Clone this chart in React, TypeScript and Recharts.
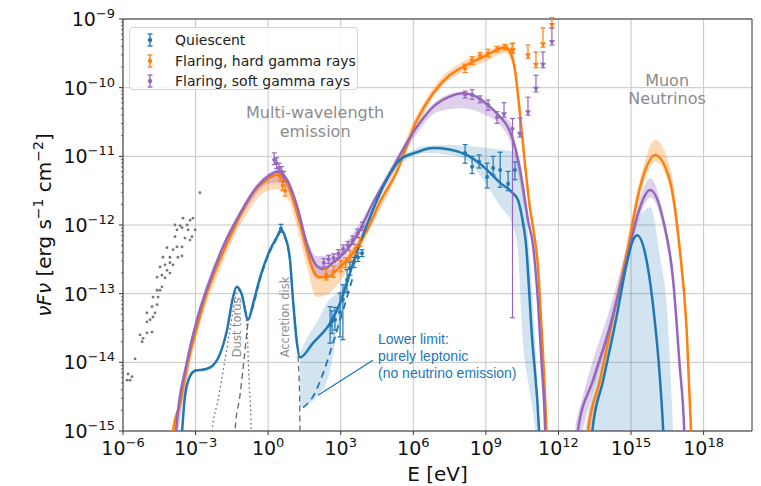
import React from 'react';
import {
  ComposedChart,
  Line,
  Area,
  Scatter,
  ErrorBar,
  XAxis,
  YAxis,
  CartesianGrid,
  ReferenceDot,
  ReferenceLine,
  ReferenceArea,
} from 'recharts';

// all values are log10: x = log10(E / eV), y = log10(vFv / erg s^-1 cm^-2)

const BLUE = '#1f77b4';
const ORANGE = '#ff7f0e';
const PURPLE = '#9467bd';
const GRAY = '#8c8c8c';
const FONT = '"DejaVu Sans", sans-serif';

const xTicks = [-6, -3, 0, 3, 6, 9, 12, 15, 18];
const yMajor = [-15, -14, -13, -12, -11, -10, -9];

// model curves, [x, y]
const quiescentSed = [
  [-3.63, -15.4], [-3.44, -14.5], [-3.23, -14.2], [-3.0, -14.12], [-2.6, -14.1], [-2.3, -14.05],
  [-2.07, -13.94], [-1.7, -13.53], [-1.45, -13.05], [-1.3, -12.9], [-1.1, -13.0], [-0.83, -13.38],
  [-0.62, -13.14], [-0.33, -12.76], [0.08, -12.36], [0.37, -12.17], [0.53, -12.07], [0.7, -12.17],
  [0.9, -12.5], [1.03, -13.1], [1.19, -13.72], [1.32, -13.93], [1.85, -13.72], [2.56, -13.43],
  [2.97, -13.14], [3.38, -12.7], [3.8, -12.26], [4.33, -11.78], [4.9, -11.34], [5.45, -11.05],
  [6.15, -10.94], [6.8, -10.88], [7.5, -10.9], [8.2, -10.98], [8.9, -11.15], [9.6, -11.39],
  [10.1, -11.53], [10.33, -11.64], [10.5, -11.9], [10.65, -12.25], [10.9, -13.6], [11.2, -15.0],
  [11.25, -15.4],
];
const hardSed = [
  [-3.97, -15.4], [-3.93, -15.0], [-3.64, -14.59], [-3.36, -14.07], [-2.94, -13.49], [-2.53, -12.99],
  [-2.0, -12.51], [-1.3, -11.97], [-0.62, -11.53], [-0.05, -11.34], [0.37, -11.27], [0.78, -11.39],
  [1.2, -11.83], [1.6, -12.36], [1.85, -12.65], [2.1, -12.76], [2.43, -12.76], [2.97, -12.61],
  [3.5, -12.41], [4.1, -12.07], [4.6, -11.68], [5.3, -11.24], [6.15, -10.47], [6.82, -10.08],
  [7.5, -9.82], [8.2, -9.67], [8.9, -9.55], [9.46, -9.45], [9.8, -9.41], [10.0, -9.48],
  [10.2, -9.74], [10.4, -10.35], [10.6, -11.05], [10.8, -11.7], [11.0, -12.15], [11.15, -12.6],
  [11.3, -13.5], [11.42, -14.3], [11.5, -15.0], [11.53, -15.4],
];
const softSed = [
  [-3.86, -15.4], [-3.81, -15.0], [-3.36, -14.0], [-2.94, -13.38], [-2.4, -12.8], [-1.87, -12.32],
  [-1.16, -11.83], [-0.46, -11.44], [0.08, -11.27], [0.37, -11.22], [0.78, -11.34], [1.2, -11.73],
  [1.6, -12.27], [2.02, -12.6], [2.3, -12.64], [2.68, -12.55], [3.26, -12.36], [3.8, -12.07],
  [4.33, -11.68], [5.04, -11.24], [6.15, -10.57], [6.82, -10.28], [7.5, -10.13], [8.05, -10.08],
  [8.6, -10.13], [9.17, -10.28], [9.6, -10.43], [9.9, -10.57], [10.12, -10.76], [10.33, -11.05],
  [10.53, -11.44], [10.74, -11.93], [10.95, -12.3], [11.15, -13.1], [11.3, -14.0], [11.45, -15.0],
  [11.48, -15.4],
];
const quiescentNu = [
  [13.33, -15.4], [13.4, -15.0], [13.85, -14.26], [14.4, -13.34], [14.83, -12.55], [15.05, -12.25],
  [15.25, -12.15], [15.58, -12.41], [15.9, -13.14], [16.2, -14.26], [16.33, -15.0], [16.38, -15.4],
];
const hardNu = [
  [13.15, -15.4], [13.22, -15.0], [13.72, -14.26], [14.26, -13.34], [14.83, -12.41], [15.37, -11.45],
  [16.0, -10.98], [16.6, -11.35], [17.0, -12.32], [17.3, -13.53], [17.48, -15.0], [17.52, -15.4],
];
const softNu = [
  [12.72, -15.4], [12.8, -15.0], [13.43, -14.26], [14.13, -13.48], [14.83, -12.5], [15.29, -11.83],
  [15.79, -11.49], [16.33, -11.93], [16.74, -12.8], [17.0, -14.0], [17.2, -15.0], [17.24, -15.4],
];
const dustTorus = [
  [-2.36, -15.4], [-2.32, -15.0], [-2.07, -14.55], [-1.82, -14.04], [-1.58, -13.53], [-1.37, -13.1],
  [-1.25, -12.95], [-1.04, -13.06], [-0.87, -13.53], [-0.79, -14.26], [-0.7, -15.0], [-0.68, -15.4],
];
const accretionDisk = [
  [-1.42, -15.4], [-1.37, -15.0], [-1.16, -14.47], [-1.0, -13.97], [-0.83, -13.43], [-0.62, -13.2],
  [-0.33, -12.8], [0.08, -12.39], [0.37, -12.2], [0.53, -12.1], [0.7, -12.2], [0.9, -12.53],
  [1.03, -13.1], [1.15, -13.55], [1.25, -14.0], [1.3, -14.5], [1.32, -15.4],
];
const leptonicLimit = [
  [1.44, -14.66], [1.85, -14.5], [2.27, -14.16], [2.68, -13.72], [3.1, -13.24], [3.5, -12.76],
];

// uncertainty bands, [x, low, high]
const quiescentDipBand = [
  [1.32, -14.65, -13.85], [1.6, -14.62, -13.65], [2.0, -14.5, -13.42], [2.5, -14.2, -13.1],
  [3.0, -13.3, -12.95], [3.4, -12.8, -12.68],
];
const quiescentIcBand = [
  [5.5, -11.1, -11.0], [6.5, -10.95, -10.85], [7.5, -10.98, -10.83], [8.2, -11.05, -10.85],
  [8.9, -11.35, -10.87], [9.6, -11.73, -10.9], [10.1, -12.0, -10.93], [10.3, -12.3, -10.97],
  [10.53, -13.7, -11.3], [10.8, -14.4, -12.4], [11.03, -14.95, -13.6], [11.2, -15.6, -15.0],
];
const hardBand = [
  [-3.9, -15.3, -14.9], [-3.6, -14.7, -14.45], [-3.0, -13.68, -13.5], [-2.0, -12.65, -12.5],
  [-1.0, -11.9, -11.75], [0.0, -11.5, -11.3], [0.4, -11.48, -11.25], [0.8, -11.6, -11.36],
  [1.2, -12.05, -11.78], [1.6, -12.6, -12.25], [2.0, -13.05, -12.6], [2.5, -13.0, -12.65],
  [3.0, -12.8, -12.52], [3.5, -12.55, -12.32], [4.0, -12.2, -12.0], [5.0, -11.52, -11.35],
  [6.0, -10.7, -10.5], [7.0, -10.05, -9.92], [8.0, -9.78, -9.63], [9.0, -9.62, -9.48],
  [9.8, -9.5, -9.36], [10.1, -9.65, -9.45], [10.3, -10.1, -9.9],
];
const softBand = [
  [-3.8, -15.2, -14.9], [-3.0, -13.55, -13.4], [-2.0, -12.5, -12.38], [-1.0, -11.82, -11.7],
  [0.0, -11.4, -11.25], [0.4, -11.38, -11.2], [0.8, -11.5, -11.32], [1.2, -11.9, -11.7],
  [1.6, -12.45, -12.2], [2.0, -12.78, -12.45], [2.5, -12.75, -12.45], [3.0, -12.55, -12.35],
  [3.5, -12.3, -12.12], [4.0, -12.0, -11.85], [5.0, -11.35, -11.2], [6.0, -10.75, -10.62],
  [7.0, -10.35, -10.18], [8.0, -10.3, -10.06], [9.0, -10.4, -10.2], [9.6, -10.55, -10.4],
  [10.0, -10.78, -10.5], [10.3, -11.2, -10.98], [10.6, -11.8, -11.5],
];
const quiescentNuBand = [
  [13.0, -16, -15.2], [13.4, -16, -14.4], [14.0, -16, -13.55], [14.5, -16, -12.85], [15.0, -16, -12.15],
  [15.4, -16, -11.85], [15.8, -16, -11.74], [16.2, -16, -12.47], [16.5, -16, -13.3], [16.75, -16, -15.1],
];
const hardNuBand = [
  [13.2, -15.2, -14.9], [13.7, -14.35, -14.15], [14.3, -13.4, -13.2], [14.8, -12.5, -12.3],
  [15.4, -11.55, -11.3], [16.0, -11.08, -10.76], [16.6, -11.45, -11.15], [17.0, -12.4, -12.1],
  [17.3, -13.6, -13.35], [17.5, -15.2, -14.8],
];
const softNuBand = [
  [12.7, -15.4, -14.9], [13.4, -14.45, -14.0], [14.1, -13.6, -13.25], [14.8, -12.6, -12.35],
  [15.3, -11.95, -11.7], [15.8, -11.6, -11.32], [16.3, -12.0, -11.8], [16.7, -12.85, -12.65],
  [17.0, -14.05, -13.85], [17.2, -15.1, -14.9],
];

// measurements, [x, y, low, high]
const quiescentData = [
  [0.53, -12.05, -12.1, -11.99],
  [2.56, -13.46, -13.72, -13.19], [2.64, -13.4, -13.58, -13.25], [2.76, -13.38, -13.53, -13.2],
  [2.97, -13.27, -13.63, -12.99], [3.09, -13.09, -13.67, -12.87], [3.26, -12.8, -12.98, -12.65],
  [3.38, -12.63, -12.73, -12.54], [3.55, -12.54, -12.62, -12.47], [3.71, -12.47, -12.53, -12.41],
  [3.88, -12.41, -12.46, -12.36],
  [8.14, -10.95, -11.1, -10.83], [8.43, -11.15, -11.25, -11.0], [8.72, -11.08, -11.17, -10.98],
  [9.05, -11.3, -11.46, -11.1], [9.3, -11.17, -11.27, -11.0], [9.59, -11.2, -11.45, -10.94],
  [9.92, -11.4, -11.5, -11.22], [10.2, -11.2, -11.34, -11.08],
];
const hardData = [
  [0.5, -11.3, -11.36, -11.24], [0.6, -11.42, -11.5, -11.35], [0.7, -11.5, -11.58, -11.42],
  [2.4, -12.72, -12.8, -12.64], [2.7, -12.68, -12.76, -12.6], [3.0, -12.6, -12.68, -12.52],
  [3.2, -12.55, -12.62, -12.48], [3.4, -12.45, -12.52, -12.38], [3.6, -12.35, -12.42, -12.28],
  [3.8, -12.25, -12.31, -12.19],
  [8.14, -9.72, -9.78, -9.66], [8.43, -9.6, -9.66, -9.55], [8.76, -9.53, -9.57, -9.49],
  [9.09, -9.5, -9.55, -9.44], [9.46, -9.44, -9.48, -9.4], [9.79, -9.41, -9.45, -9.37],
  [10.08, -9.45, -9.5, -9.36],
];
const softData = [
  [0.25, -11.05, -11.12, -10.95], [0.35, -11.1, -11.18, -11.02], [0.45, -11.17, -11.24, -11.1],
  [0.55, -11.22, -11.3, -11.15], [0.65, -11.3, -11.37, -11.22],
  [2.3, -12.55, -12.61, -12.49], [2.5, -12.5, -12.56, -12.44], [2.7, -12.48, -12.54, -12.42],
  [2.9, -12.42, -12.48, -12.36], [3.1, -12.35, -12.41, -12.29], [3.3, -12.3, -12.36, -12.24],
  [3.5, -12.22, -12.28, -12.16], [3.7, -12.12, -12.18, -12.06], [3.9, -12.02, -12.08, -11.96],
  [8.14, -10.1, -10.15, -10.05], [8.43, -10.1, -10.17, -10.03], [8.76, -10.17, -10.22, -10.12],
  [9.09, -10.25, -10.33, -10.18], [9.46, -10.43, -10.52, -10.35], [10.1, -10.6, -13.35, -10.45],
];

// upper limits, [x, top, arrow tip]
const hardLimits = [
  [10.12, -9.35, -9.5], [10.74, -9.38, -9.57], [11.07, -9.48, -9.71], [11.36, -9.13, -9.41],
  [11.73, -8.98, -9.13],
];
const softLimits = [
  [9.75, -10.22, -10.43], [10.41, -10.44, -10.72], [10.74, -10.14, -10.4], [11.07, -9.82, -10.06],
  [11.36, -9.48, -9.71], [11.73, -9.13, -9.38],
];

// archival host / radio points, [x, y]
const archival = [
  [-5.83, -14.26], [-5.63, -14.21], [-5.79, -14.17], [-5.71, -14.26], [-5.5, -13.95], [-5.21, -13.7],
  [-5.17, -13.65], [-5.3, -13.6], [-5.01, -13.57], [-4.8, -13.56], [-5.01, -13.41], [-4.88, -13.38],
  [-5.01, -13.28], [-4.76, -13.34], [-4.68, -13.28], [-4.8, -13.19], [-4.59, -13.16], [-4.76, -13.05],
  [-4.55, -13.05], [-4.47, -12.95], [-4.59, -12.95], [-4.39, -12.9], [-4.59, -12.76], [-4.39, -12.73],
  [-4.26, -12.77], [-4.18, -12.66], [-4.06, -12.7], [-4.47, -12.61], [-4.26, -12.58], [-4.06, -12.55],
  [-3.93, -12.58], [-4.35, -12.47], [-4.06, -12.47], [-3.73, -12.47], [-3.56, -12.45], [-4.18, -12.33],
  [-3.93, -12.36], [-3.77, -12.32], [-3.56, -12.32], [-3.85, -12.17], [-3.44, -12.19], [-3.23, -12.22],
  [-3.15, -12.17], [-3.77, -12.07], [-3.56, -12.04], [-3.31, -12.07], [-3.02, -12.07], [-3.85, -12.0],
  [-3.64, -12.01], [-3.35, -12.0], [-3.23, -11.93], [-3.11, -11.9], [-3.52, -11.9], [-2.82, -11.53],
];

const yTicks = yMajor.flatMap((n) =>
  n === -9 ? [n] : [n, ...[2, 3, 4, 5, 6, 7, 8, 9].map((k) => n + Math.log10(k))]
);

const toXY = (pts: number[][]) => pts.map(([x, y]) => ({ x, y }));
const toBand = (pts: number[][]) => pts.map(([x, lo, hi]) => ({ x, band: [lo, hi] }));
const toErr = (pts: number[][]) => pts.map(([x, y, lo, hi]) => ({ x, y, err: [y - lo, hi - y] }));
const toLimit = (pts: number[][]) => pts.map(([x, top, tip]) => ({ x, y: tip, err: [0, top - tip] }));

const sup = (v: number) => (v < 0 ? '\u2212' + Math.abs(v) : String(v));

const XTick = (props: any) => {
  const { x, y, payload } = props;
  return (
    <g>
      <line x1={x} x2={x} y1={y} y2={y + 4} stroke="#333" />
      <text x={x} y={y + 24} textAnchor="middle" fontSize={19} fontFamily={FONT} fill="#111">
        10<tspan dy={-8} fontSize={13}>{sup(payload.value)}</tspan>
      </text>
    </g>
  );
};

const YTick = (props: any) => {
  const { x, y, payload } = props;
  const v = payload.value;
  const major = Math.abs(v - Math.round(v)) < 1e-6;
  return (
    <g>
      <line x1={x} x2={x - (major ? 4 : 2)} y1={y} y2={y} stroke="#333" strokeWidth={major ? 1 : 0.7} />
      {major && (
        <text x={x - 8} y={y + 7} textAnchor="end" fontSize={19} fontFamily={FONT} fill="#111">
          10<tspan dy={-8} fontSize={13}>{sup(Math.round(v))}</tspan>
        </text>
      )}
    </g>
  );
};

const dot = (color: string, r = 2) => (p: any) => <circle cx={p.cx} cy={p.cy} r={r} fill={color} />;
const arrow = (color: string) => (p: any) => (
  <path d={`M${p.cx - 3},${p.cy - 5}L${p.cx + 3},${p.cy - 5}L${p.cx},${p.cy}Z`} fill={color} />
);

const textAt = (lines: string[], opts: any) => (p: any) => (
  <text
    x={p.cx}
    y={p.cy}
    textAnchor={opts.anchor || 'middle'}
    dominantBaseline="central"
    fontSize={opts.size}
    fontFamily={opts.font || FONT}
    fill={opts.color}
    transform={opts.rotate ? `rotate(${opts.rotate}, ${p.cx}, ${p.cy})` : undefined}
  >
    {lines.map((l, i) => (
      <tspan key={i} x={p.cx} dy={i === 0 ? 0 : opts.lineHeight}>
        {l}
      </tspan>
    ))}
  </text>
);

const LegendMark = ({ color }: { color: string }) => (
  <svg width={14} height={16} style={{ display: 'block' }}>
    <line x1={7} x2={7} y1={2} y2={14} stroke={color} strokeWidth={1.3} />
    <line x1={4.5} x2={9.5} y1={2} y2={2} stroke={color} strokeWidth={1.3} />
    <line x1={4.5} x2={9.5} y1={14} y2={14} stroke={color} strokeWidth={1.3} />
    <circle cx={7} cy={8} r={2.2} fill={color} />
  </svg>
);

const legendItems = [
  { label: 'Quiescent', color: BLUE },
  { label: 'Flaring, hard gamma rays', color: ORANGE },
  { label: 'Flaring, soft gamma rays', color: PURPLE },
];

export default function App() {
  const band = (data: number[][], color: string, opacity: number) => (
    <Area
      data={toBand(data)}
      dataKey="band"
      type="monotone"
      stroke="none"
      fill={color}
      fillOpacity={opacity}
      isAnimationActive={false}
    />
  );
  const curve = (data: number[][], color: string, width = 2.5, dash?: string) => (
    <Line
      data={toXY(data)}
      dataKey="y"
      type="monotone"
      stroke={color}
      strokeWidth={width}
      strokeDasharray={dash}
      dot={false}
      activeDot={false}
      isAnimationActive={false}
    />
  );
  const points = (data: any[], color: string, shape: any, lw = 1.2) => (
    <Scatter data={data} dataKey="y" fill={color} shape={shape} isAnimationActive={false}>
      <ErrorBar dataKey="err" direction="y" width={2.5} stroke={color} strokeWidth={lw} />
    </Scatter>
  );

  return (
    <div style={{ position: 'absolute', left: 0, top: 0, width: 761, height: 486, background: '#fff' }}>
      <ComposedChart width={761} height={486} margin={{ top: 19, right: 9, bottom: 0, left: 0 }}>
        <CartesianGrid stroke="#c6c6c6" horizontalValues={yMajor} verticalValues={xTicks} />
        <XAxis
          type="number"
          dataKey="x"
          domain={[-6, 20]}
          ticks={xTicks}
          allowDataOverflow
          interval={0}
          height={55}
          axisLine={false}
          tickLine={false}
          tickSize={0}
          tickMargin={0}
          tick={XTick}
          label={{
            content: (p: any) => (
              <text
                x={p.viewBox.x + p.viewBox.width / 2}
                y={p.viewBox.y + 50}
                textAnchor="middle"
                fontSize={20}
                fontFamily={FONT}
                fill="#111"
              >
                E [eV]
              </text>
            ),
          }}
        />
        <YAxis
          type="number"
          domain={[-15, -9]}
          ticks={yTicks}
          allowDataOverflow
          interval={0}
          width={123}
          axisLine={false}
          tickLine={false}
          tickSize={0}
          tickMargin={0}
          tick={YTick}
          label={{
            content: (p: any) => {
              const cx = p.viewBox.x + 51;
              const cy = p.viewBox.y + p.viewBox.height / 2;
              return (
                <text
                  x={cx}
                  y={cy}
                  textAnchor="middle"
                  fontSize={20}
                  fontFamily={FONT}
                  fill="#111"
                  transform={`rotate(-90, ${cx}, ${cy})`}
                >
                  <tspan fontStyle="italic">&#957;F&#957;</tspan> [erg s
                  <tspan dy={-8} fontSize={14}>&#8722;1</tspan>
                  <tspan dy={8}> cm</tspan>
                  <tspan dy={-8} fontSize={14}>&#8722;2</tspan>
                  <tspan dy={8}>]</tspan>
                </text>
              );
            },
          }}
        />

        {band(quiescentNuBand, BLUE, 0.2)}
        {band(hardNuBand, ORANGE, 0.3)}
        {band(softNuBand, PURPLE, 0.3)}
        {band(hardBand, ORANGE, 0.3)}
        {band(softBand, PURPLE, 0.3)}
        {band(quiescentDipBand, BLUE, 0.2)}
        {band(quiescentIcBand, BLUE, 0.2)}

        {curve(dustTorus, '#666', 1.3, '1.5 3')}
        {curve(accretionDisk, '#666', 1.3, '6 4')}
        {curve(leptonicLimit, BLUE, 1.8, '7 5')}
        {curve(hardSed, ORANGE)}
        {curve(softSed, PURPLE)}
        {curve(quiescentSed, BLUE)}
        {curve(hardNu, ORANGE)}
        {curve(softNu, PURPLE)}
        {curve(quiescentNu, BLUE)}

        <Scatter data={toXY(archival)} dataKey="y" fill="#777" shape={dot('#777', 1.4)} isAnimationActive={false} />
        {points(toErr(quiescentData), BLUE, dot(BLUE))}
        {points(toErr(hardData), ORANGE, dot(ORANGE))}
        {points(toErr(softData), PURPLE, dot(PURPLE))}
        {points(toLimit(hardLimits), ORANGE, arrow(ORANGE))}
        {points(toLimit(softLimits), PURPLE, arrow(PURPLE))}

        <ReferenceLine
          segment={[{ x: 4.33, y: -13.97 }, { x: 2.06, y: -14.48 }]}
          stroke={BLUE}
          strokeWidth={1.3}
        />
        <ReferenceDot x={1.94} y={-10.35} r={0} shape={textAt(['Multi-wavelength', 'emission'], { size: 16, color: GRAY, lineHeight: 19 })} />
        <ReferenceDot x={16.49} y={-9.89} r={0} shape={textAt(['Muon', 'Neutrinos'], { size: 16, color: GRAY, lineHeight: 18 })} />
        <ReferenceDot x={-1.29} y={-13.49} r={0} shape={textAt(['Dust torus'], { size: 11.5, color: GRAY, rotate: -90 })} />
        <ReferenceDot x={0.7} y={-13.34} r={0} shape={textAt(['Accretion disk'], { size: 11.5, color: GRAY, rotate: -90 })} />
        <ReferenceDot
          x={4.54}
          y={-13.66}
          r={0}
          shape={textAt(['Lower limit:', 'purely leptonic', '(no neutrino emission)'], {
            size: 14,
            color: BLUE,
            anchor: 'start',
            lineHeight: 17,
            font: '"Liberation Sans", Arial, sans-serif',
          })}
        />
        <ReferenceArea x1={-6} x2={20} y1={-15} y2={-9} fill="none" fillOpacity={0} stroke="#333" strokeWidth={1} />
      </ComposedChart>

      <div
        style={{
          position: 'absolute',
          left: 129,
          top: 27,
          width: 229,
          height: 63,
          border: '1px solid #d5d5d5',
          borderRadius: 4,
          background: 'rgba(255,255,255,0.85)',
          fontFamily: FONT,
          fontSize: 14,
          color: '#222',
          boxSizing: 'border-box',
          paddingTop: 2,
        }}
      >
        {legendItems.map((it) => (
          <div key={it.label} style={{ display: 'flex', alignItems: 'center', height: 20.5 }}>
            <div style={{ width: 14, marginLeft: 13, marginRight: 18 }}>
              <LegendMark color={it.color} />
            </div>
            <span>{it.label}</span>
          </div>
        ))}
      </div>
    </div>
  );
}
